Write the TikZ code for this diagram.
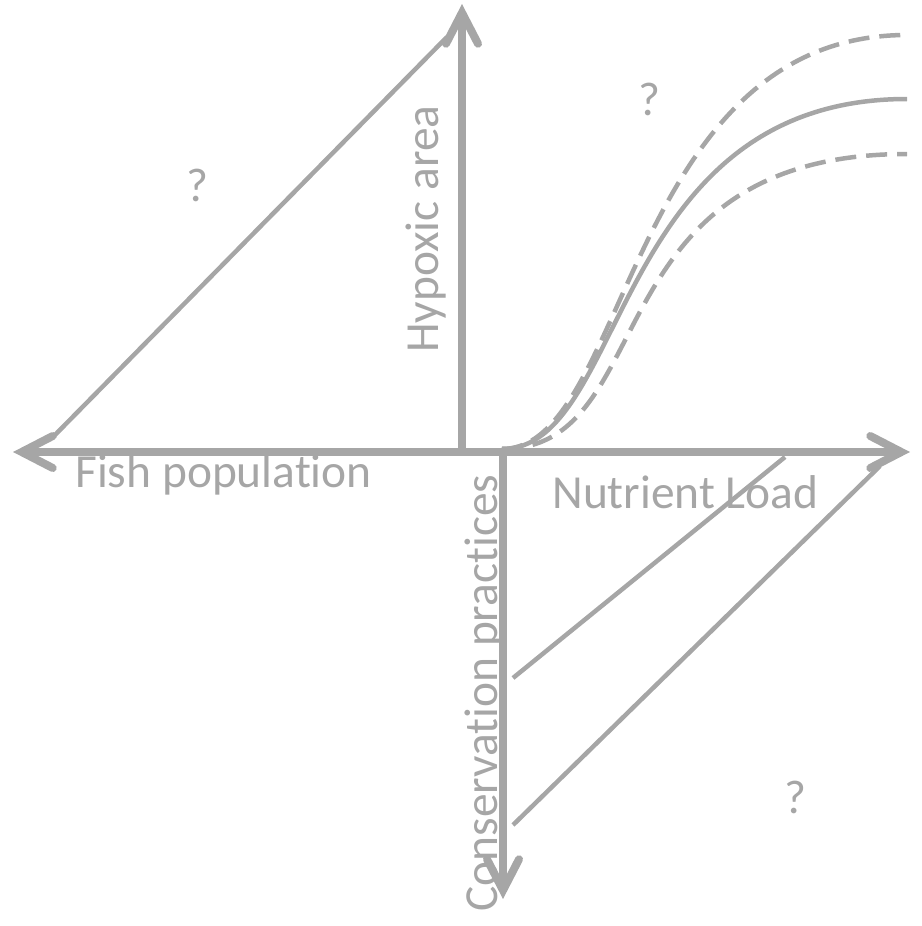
\documentclass[tikz,border=0pt]{standalone}
\usepackage{fontspec}
\setmainfont{Carlito}[Ligatures={NoCommon}]
\usepackage{tikz}
\usetikzlibrary{arrows.meta}
\definecolor{hxGray}{RGB}{166,166,166}

\begin{document}
\begin{tikzpicture}[x=0.02cm,y=-0.02cm,
  axis/.style={draw=hxGray,line width=0.16cm,
    -{Straight Barb[length=0.62cm,width=0.64cm,line cap=round,line join=miter]}},
  guide/.style={draw=hxGray,line width=0.09cm},
  label/.style={inner sep=0pt,text=hxGray,font=\fontsize{27}{32}\selectfont}]
  \useasboundingbox (0,0) rectangle (921,926);
  % axes
  \coordinate (hypO) at (462,452);
  \coordinate (hypTip) at (462,4);
  \coordinate (conO) at (503,452);
  \coordinate (conTip) at (503,899);
  \coordinate (fishTip) at (13,452);
  \coordinate (nutTip) at (910,452);
  \draw[axis] (conO) -- (fishTip);
  \draw[axis] (hypO) -- (nutTip);
  \draw[axis] (hypO) -- (hypTip);
  \draw[axis] (conO) -- (conTip);
  % linear links
  \coordinate (fishEnd) at (52,438);
  \coordinate (hypEnd) at (447,37);
  \coordinate (conA) at (513,678);
  \coordinate (nutA) at (785,457);
  \coordinate (conB) at (513,825);
  \coordinate (nutB) at (880,466);
  \draw[guide] (fishEnd) -- (hypEnd);
  \draw[guide] (conA) -- (nutA);
  \draw[guide] (conB) -- (nutB);
  % response curves
  \coordinate (curveO) at (502,449);
  \coordinate (midEnd) at (907,99);
  \coordinate (hiEnd) at (907,35);
  \coordinate (loEnd) at (907,154);
  \draw[guide] (curveO) .. controls (628,449) and (610,99) .. (midEnd);
  \draw[guide,dash pattern=on 0.42cm off 0.2cm] (curveO) .. controls (628,449) and (627,35) .. (hiEnd);
  \draw[guide,dash pattern=on 0.42cm off 0.2cm] (curveO) .. controls (663,449) and (589,154) .. (loEnd);
  % labels
  \node[label,anchor=base west] (fish) at (75,487) {Fish population};
  \node[label,anchor=base west] (nut) at (552,508) {Nutrient Load};
  \node[label,anchor=base west,rotate=90] (hyp) at (438,353) {Hypoxic area};
  \node[label,anchor=base west,rotate=90] (con) at (497,912) {Conservation practices};
  \node[label] (q1) at (197,185) {?};
  \node[label] (q2) at (649,99) {?};
  \node[label] (q3) at (795,797) {?};
\end{tikzpicture}
\end{document}
